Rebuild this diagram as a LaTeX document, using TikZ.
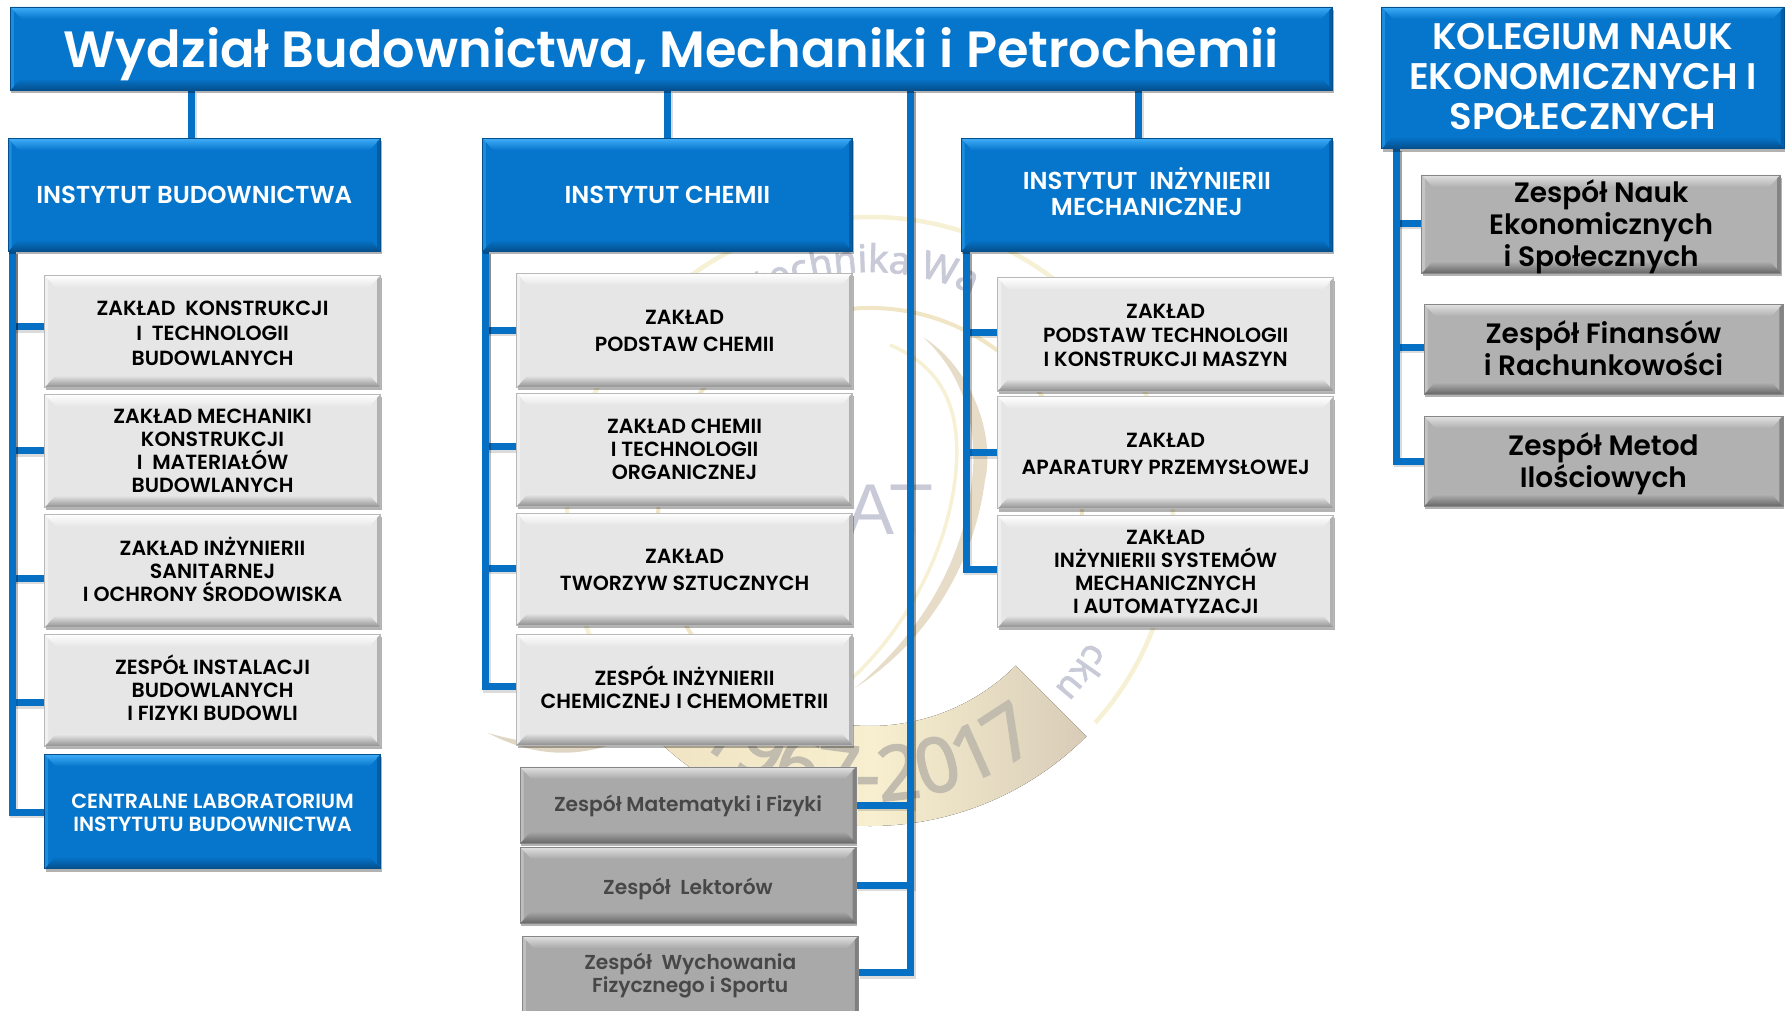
\documentclass[tikz,border=0pt]{standalone}
\usepackage{fontspec}
\setmainfont{Poppins}[BoldFont={Poppins SemiBold}]
\newfontfamily\wmfont[FakeBold=2]{Noto Sans}
\newfontfamily\atfont{Liberation Sans}
\usetikzlibrary{shadows,calc,decorations.text}
\pgfdeclarelayer{wm}
\pgfdeclarelayer{cn}
\pgfsetlayers{wm,cn,main}
\definecolor{bluefill}{HTML}{0676CC}
\definecolor{bluetop}{HTML}{3FADF7}
\definecolor{bluebot}{HTML}{044F8C}
\definecolor{lightfill}{HTML}{E6E6E6}
\definecolor{lighttop}{HTML}{FFFFFF}
\definecolor{lightbot}{HTML}{909090}
\definecolor{midfill}{HTML}{A9A9A9}
\definecolor{teamfill}{HTML}{B1B1B1}
\definecolor{midtop}{HTML}{E2E2E2}
\definecolor{midbot}{HTML}{666666}
\definecolor{connblue}{HTML}{0570C4}
\definecolor{wmtext}{HTML}{C9CAD8}
\definecolor{wmyear}{HTML}{C2BCAE}
\definecolor{ringcream}{HTML}{F6F0D4}
\definecolor{bandleft}{HTML}{F0E4C4}
\definecolor{bandmid}{HTML}{F7EFCF}
\definecolor{bandright}{HTML}{D8CCB8}
\definecolor{swoosh}{HTML}{E6DCC8}
\definecolor{swooshb}{HTML}{E0D6C4}
\tikzset{
 bev/.style n args={4}{rectangle, inner sep=0pt, fill=#1, draw=#4, line width=.7pt,
   drop shadow={shadow xshift=1pt,shadow yshift=-3pt,opacity=.3,fill=black},
   path picture={
     \coordinate (pa) at (path picture bounding box.north west);
     \coordinate (pb) at (path picture bounding box.north east);
     \coordinate (pc) at (path picture bounding box.south east);
     \coordinate (pd) at (path picture bounding box.south west);
     \shade[top color=#2,bottom color=#1] (pa)--(pb)--($(pb)+(-11pt,-12pt)$)--($(pa)+(11pt,-12pt)$)--cycle;
     \shade[top color=#1,bottom color=#3] (pd)--(pc)--($(pc)+(-11pt,12pt)$)--($(pd)+(11pt,12pt)$)--cycle;
     \fill[#3,opacity=.6] (pb)--(pc)--($(pc)+(-3.5pt,3.5pt)$)--($(pb)+(-3.5pt,-3.5pt)$)--cycle;
     \fill[#2,opacity=.4] (pa)--(pd)--($(pd)+(3.5pt,3.5pt)$)--($(pa)+(3.5pt,-3.5pt)$)--cycle;
   }},
 bluebox/.style={bev={bluefill}{bluetop}{bluebot}{bluebot}},
 lightbox/.style={bev={lightfill}{lighttop}{lightbot}{lightfill!80!black}},
 midbox/.style={bev={midfill}{midtop}{midbot}{midfill!80!black}},
 teambox/.style={bev={teamfill}{midtop}{midbot}{midfill!80!black}},
 conn/.style={draw=connblue, line width=7pt,
   preaction={draw=black,opacity=.14,line width=8pt,transform canvas={shift={(1.5pt,-2pt)}}}},
 tx/.style={inner sep=0pt, align=center},
 fsTitle/.style={tx,text=white,font=\fontsize{51}{56}\selectfont\bfseries},
 fsKol/.style={tx,text=white,font=\fontsize{37}{40}\selectfont\bfseries},
 fsHead/.style={tx,text=white,font=\fontsize{24.5}{26}\selectfont\bfseries},
 fsBox/.style={tx,text=black,font=\fontsize{20.5}{23}\selectfont\bfseries},
 fsBlue/.style={tx,text=white,font=\fontsize{20.5}{23}\selectfont\bfseries},
 fsGrey/.style={tx,text=black!72,font=\fontsize{20.2}{23}\selectfont\bfseries},
 fsTeam/.style={tx,text=black,font=\fontsize{28}{32}\selectfont\bfseries},
}
% \bx[text shift down, px]{box style}{name}{text style}{x1}{y1}{x2}{y2}{text}
\newcommand{\bx}[9][0]{%
 \pgfmathsetmacro\bw{(#7-#5)*1.142857}%
 \pgfmathsetmacro\bh{(#8-#6)*1.142857}%
 \pgfmathsetmacro\cx{(#7+#5)/2}%
 \pgfmathsetmacro\cy{(#8+#6)/2}%
 \node[#2, minimum width=\bw pt, minimum height=\bh pt] (#3) at (\cx,\cy) {};
 \node[#4] (#3-t) at ([yshift={-(#1)*1pt}]#3.center) {#9};}
\begin{document}
\begin{tikzpicture}[x=1.142857pt,y=-1.142857pt]
\path[use as bounding box] (0pt,0pt) rectangle (1792pt,-1010pt);
\begin{pgfonlayer}{wm}
\begin{scope}[x=1pt,y=1pt]
 \coordinate (wc) at (870,-520);
 \fill[left color=bandleft,right color=bandright,middle color=bandmid]
   ($(wc)+(-133:306)$) arc[start angle=-133,end angle=-45,radius=306]
   -- ($(wc)+(-45:206)$) arc[start angle=-45,end angle=-133,radius=206] -- cycle;
 \draw[ringcream,line width=4.5pt] ($(wc)+(-42:303)$) arc[start angle=-42,end angle=222,radius=303];
 \draw[ringcream!90!brown,line width=4pt] ($(wc)+(-28:212)$) arc[start angle=-28,end angle=215,radius=212];
 \fill[swoosh] (923,-337) .. controls (975,-370) and (995,-440) .. (985,-480)
    .. controls (975,-560) and (930,-640) .. (855,-688)
    .. controls (925,-630) and (965,-555) .. (972,-480)
    .. controls (978,-430) and (965,-375) .. (923,-337) -- cycle;
 \draw[ringcream,line width=3.5pt] (890,-345) .. controls (950,-370) and (962,-420) .. (955,-480)
    .. controls (945,-560) and (900,-635) .. (850,-680);
 \fill[swooshb] (488,-733) .. controls (530,-755) and (570,-758) .. (610,-745)
    .. controls (570,-748) and (530,-745) .. (488,-733) -- cycle;
 \path[decorate,decoration={text along path,text align=left,
   text={|\fontsize{38}{38}\selectfont\wmfont\color{wmtext}|technika Wa}}]
   ($(wc)+(116:248)$) arc[start angle=116,end angle=45,radius=248];
 \path[decorate,decoration={text along path,text align=left,
   text={|\fontsize{36}{36}\selectfont\wmfont\color{wmtext}|cku}}]
   ($(wc)+(-29:250)$) arc[start angle=-29,end angle=-55,radius=250];
 \path[decorate,decoration={text along path,text align=center,
   text={|\fontsize{76}{76}\selectfont\wmfont\color{wmyear}|1967-2017}}]
   ($(wc)+(-133.5:281)$) arc[start angle=-133.5,end angle=-47.5,radius=281];
 \node[font=\fontsize{72}{72}\selectfont\atfont,text=wmtext,inner sep=0pt] (wat) at (890,-510) {AT};
\end{scope}
\end{pgfonlayer}
% nodes
\bx[5.5]{bluebox}{title}{fsTitle}{9}{6}{1166}{79}{Wydział Budownictwa, Mechaniki i Petrochemii}
\bx[-1]{bluebox}{kol}{fsKol}{1209}{6}{1561}{130}{KOLEGIUM NAUK\\EKONOMICZNYCH I\\SPOŁECZNYCH}
\bx{bluebox}{hb}{fsHead}{7}{121}{333}{220}{INSTYTUT BUDOWNICTWA}
\bx{bluebox}{hc}{fsHead}{422}{121}{746}{220}{INSTYTUT CHEMII}
\bx[-3]{bluebox}{hm}{fsHead}{841}{121}{1166}{220}{INSTYTUT~~INŻYNIERII\\MECHANICZNEJ}
\bx[2]{lightbox}{b1}{fsBox}{39}{241}{333}{339}{ZAKŁAD~~KONSTRUKCJI\\[2pt]I~~TECHNOLOGII\\[2pt]BUDOWLANYCH}
\bx{lightbox}{b2}{fsBox}{39}{345}{333}{444}{ZAKŁAD MECHANIKI\\KONSTRUKCJI\\I~~MATERIAŁÓW\\BUDOWLANYCH}
\bx[-1]{lightbox}{b3}{fsBox}{39}{450}{333}{549}{ZAKŁAD INŻYNIERII\\SANITARNEJ\\I OCHRONY ŚRODOWISKA}
\bx[-2.3]{lightbox}{b4}{fsBox}{39}{555}{333}{653}{ZESPÓŁ INSTALACJI\\BUDOWLANYCH\\I FIZYKI BUDOWLI}
\bx[1]{bluebox}{b5}{fsBlue}{39}{660}{333}{760}{CENTRALNE LABORATORIUM\\INSTYTUTU BUDOWNICTWA}
\bx[.5]{lightbox}{c1}{fsBox}{452}{239}{746}{339}{ZAKŁAD\\[4pt]PODSTAW CHEMII}
\bx{lightbox}{c2}{fsBox}{452}{344}{746}{443}{ZAKŁAD CHEMII\\I TECHNOLOGII\\ORGANICZNEJ}
\bx[1]{lightbox}{c3}{fsBox}{452}{449}{746}{547}{ZAKŁAD\\[4pt]TWORZYW SZTUCZNYCH}
\bx[-2.3]{lightbox}{c4}{fsBox}{452}{555}{746}{652}{ZESPÓŁ INŻYNIERII\\CHEMICZNEJ I CHEMOMETRII}
\bx[1]{midbox}{g1}{fsGrey}{455}{671}{749}{738}{Zespół Matematyki i Fizyki}
\bx[3.4]{midbox}{g2}{fsGrey}{455}{741}{749}{808}{Zespół~~Lektorów}
\bx[-3.4]{midbox}{g3}{fsGrey}{457}{819}{751}{894}{Zespół~~Wychowania\\Fizycznego i Sportu}
\bx[1]{lightbox}{m1}{fsBox}{873}{243}{1167}{342}{ZAKŁAD\\[1pt]PODSTAW TECHNOLOGII\\[1pt]I KONSTRUKCJI MASZYN}
\bx[1]{lightbox}{m2}{fsBox}{873}{347}{1167}{445}{ZAKŁAD\\[4pt]APARATURY PRZEMYSŁOWEJ}
\bx{lightbox}{m3}{fsBox}{873}{451}{1167}{549}{ZAKŁAD\\INŻYNIERII SYSTEMÓW\\MECHANICZNYCH\\I AUTOMATYZACJI}
\bx[2.3]{teambox}{k1}{fsTeam}{1244}{153}{1558}{239}{Zespół Nauk\\Ekonomicznych\\i Społecznych}
\bx[-1]{teambox}{k2}{fsTeam}{1246}{266}{1560}{345}{Zespół Finansów\\i Rachunkowości}
\bx[2.3]{teambox}{k3}{fsTeam}{1246}{364}{1560}{443}{Zespół Metod\\Ilościowych}
% connectors
\begin{pgfonlayer}{cn}
\coordinate (tr) at (797,79);
\coordinate (tb) at ([xshift=4.5pt]hb.south west);
\coordinate (tc) at ([xshift=4pt]hc.south west);
\coordinate (tm) at ([xshift=5.5pt]hm.south west);
\coordinate (tk) at ([xshift=15pt]kol.south west);
\draw[conn] (tb) |- ([yshift=4.6pt]b1.west);
\draw[conn] (tb) |- (b2.west);
\draw[conn] (tb) |- ([yshift=-7.4pt]b3.west);
\draw[conn] (tb) |- ([yshift=-12.6pt]b4.west);
\draw[conn] (tb) |- ([yshift=-1pt]b5.west);
\draw[conn] (tc) |- (c1.west);
\draw[conn] (tc) |- ([yshift=3pt]c2.west);
\draw[conn] (tc) |- ([yshift=1pt]c3.west);
\draw[conn] (tc) |- ([yshift=3pt]c4.west);
\draw[conn] (tm) |- ([yshift=2pt]m1.west);
\draw[conn] (tm) |- (m2.west);
\draw[conn] (tm) |- ([yshift=2pt]m3.west);
\draw[conn] (tk) |- ([yshift=1pt]k1.west);
\draw[conn] (tk) |- ([yshift=2pt]k2.west);
\draw[conn] (tk) |- (k3.west);
\draw[conn] (tr) |- (g1.east);
\draw[conn] (tr) |- (g2.east);
\draw[conn] (tr) |- ([yshift=6pt]g3.east);
\draw[conn] ([xshift=-3pt]title.south -| hb.north) -- ([xshift=-3pt]hb.north);
\draw[conn] (title.south -| hc.north) -- (hc.north);
\draw[conn] ([xshift=-8pt]title.south -| hm.north) -- ([xshift=-8pt]hm.north);
\end{pgfonlayer}
\end{tikzpicture}
\end{document}
